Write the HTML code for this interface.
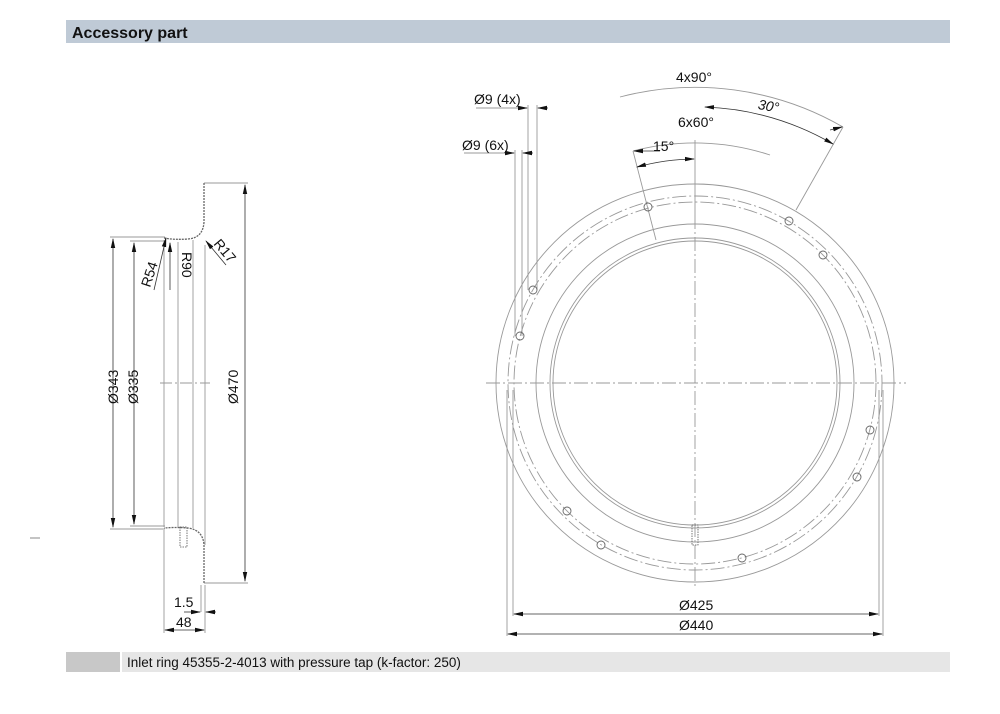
<!DOCTYPE html>
<html><head><meta charset="utf-8"><style>
body{margin:0;background:#fff;width:1000px;height:714px;overflow:hidden;font-family:"Liberation Sans",sans-serif}
svg{position:absolute;left:0;top:0}
</style></head><body>
<svg width="1000" height="714" viewBox="0 0 1000 714" font-family="Liberation Sans, sans-serif">
<defs>
<marker id="a" markerWidth="10" markerHeight="6" refX="9" refY="3" orient="auto-start-reverse" markerUnits="userSpaceOnUse"><path d="M0,0.8 L10,3 L0,5.2z" fill="#111"/></marker>
</defs>
<rect x="66" y="20" width="884" height="23" fill="#bfcad6"/>
<text x="72" y="38" font-size="16" font-weight="bold" fill="#111">Accessory part</text>
<rect x="66" y="652" width="54" height="20" fill="#c8c8c8"/>
<rect x="122" y="652" width="828" height="20" fill="#e6e6e6"/>
<text x="127" y="667" font-size="13.5" fill="#111">Inlet ring 45355-2-4013 with pressure tap (k-factor: 250)</text>
<line x1="30" y1="538" x2="40" y2="538" stroke="#888"/>

<g stroke="#999" stroke-width="0.9" fill="none">
<line x1="164" y1="240" x2="164" y2="527"/><line x1="178" y1="242" x2="178" y2="527"/>
<line x1="193" y1="240" x2="193" y2="528"/><line x1="205" y1="245" x2="205" y2="545"/>
<line x1="160" y1="383" x2="210" y2="383" stroke-dasharray="12,3,2,3"/>
<line x1="204" y1="183" x2="248" y2="183"/><line x1="204" y1="583" x2="248" y2="583"/>
<line x1="110" y1="237" x2="165" y2="237"/><line x1="130" y1="241" x2="165" y2="241"/>
<line x1="110" y1="529" x2="165" y2="529"/><line x1="130" y1="526" x2="165" y2="526"/>
<line x1="164" y1="530" x2="164" y2="633"/><line x1="205" y1="585" x2="205" y2="633"/>
<line x1="201" y1="585" x2="201" y2="612"/>
</g>
<path d="M204,183 L204,222 Q203,238 188,239 Q175,240 164,238" fill="none" stroke="#666" stroke-width="1.3" stroke-dasharray="2,1"/>
<path d="M204,583 L204,545 Q203,530 188,528 Q175,527 164,528" fill="none" stroke="#666" stroke-width="1.3" stroke-dasharray="2,1"/>
<rect x="180" y="527" width="7" height="20" fill="none" stroke="#555" stroke-width="0.8" stroke-dasharray="1.5,1"/>
<g stroke="#333" stroke-width="0.8" fill="none">
<line x1="245" y1="383" x2="245" y2="185" marker-end="url(#a)"/><line x1="245" y1="383" x2="245" y2="581" marker-end="url(#a)"/>
<line x1="113" y1="383" x2="113" y2="239" marker-end="url(#a)"/><line x1="113" y1="383" x2="113" y2="527" marker-end="url(#a)"/>
<line x1="134" y1="383" x2="134" y2="243" marker-end="url(#a)"/><line x1="134" y1="383" x2="134" y2="524" marker-end="url(#a)"/>
<line x1="184" y1="612" x2="200" y2="612" marker-end="url(#a)"/><line x1="216" y1="612" x2="206" y2="612" marker-end="url(#a)"/>
<line x1="184" y1="630" x2="165" y2="630" marker-end="url(#a)"/><line x1="184" y1="630" x2="204" y2="630" marker-end="url(#a)"/>
<line x1="154" y1="290" x2="166" y2="238" marker-end="url(#a)"/>
<line x1="170" y1="290" x2="170" y2="243" marker-end="url(#a)"/>
<line x1="226" y1="265" x2="206" y2="241" marker-end="url(#a)"/>
</g>
<g font-size="14" fill="#111">
<text transform="translate(118,404) rotate(-90)">Ø343</text>
<text transform="translate(138,404) rotate(-90)">Ø335</text>
<text transform="translate(238,404) rotate(-90)">Ø470</text>
<text transform="translate(150,288) rotate(-72)">R54</text>
<text transform="translate(182,252) rotate(90)">R90</text>
<text transform="translate(213,244) rotate(50)">R17</text>
<text x="174" y="607">1.5</text>
<text x="176" y="627">48</text>
</g>

<g stroke="#999" stroke-width="0.9" fill="none">
<circle cx="695" cy="383" r="199"/>
<circle cx="695" cy="383" r="159"/>
<circle cx="695" cy="383" r="145"/>
<circle cx="695" cy="383" r="142"/>
<circle cx="695" cy="383" r="187" stroke-dasharray="14,3,2,3"/>
<circle cx="695" cy="383" r="181" stroke-dasharray="14,3,2,3"/>
<line x1="486" y1="383" x2="906" y2="383" stroke-dasharray="14,3,2,3"/>
<line x1="695" y1="215" x2="695" y2="588" stroke-dasharray="14,3,2,3"/>
<line x1="507" y1="390" x2="507" y2="636"/><line x1="883" y1="390" x2="883" y2="636"/>
<line x1="513" y1="390" x2="513" y2="616"/><line x1="879" y1="390" x2="879" y2="616"/>
<line x1="528" y1="105" x2="528" y2="290"/><line x1="537" y1="105" x2="537" y2="290"/>
<line x1="515" y1="150" x2="515" y2="336"/><line x1="522" y1="150" x2="522" y2="336"/>
<line x1="695" y1="140" x2="695" y2="215"/>
<path d="M620,97 A296,296 0 0 1 843,127"/>
<path d="M633,151 A240,240 0 0 1 770,155"/>
<line x1="633" y1="151" x2="656" y2="240"/>
<line x1="843" y1="127" x2="796" y2="210"/>
<line x1="476" y1="108" x2="520" y2="108"/><line x1="464" y1="153" x2="508" y2="153"/>
</g>
<g fill="none" stroke="#666" stroke-width="0.9">
<circle cx="648" cy="207" r="4"/><circle cx="823" cy="255" r="4"/><circle cx="870" cy="430" r="4"/>
<circle cx="742" cy="558" r="4"/><circle cx="567" cy="511" r="4"/><circle cx="520" cy="336" r="4"/>
<circle cx="789" cy="221" r="4"/><circle cx="857" cy="477" r="4"/><circle cx="601" cy="545" r="4"/><circle cx="533" cy="290" r="4"/>
</g>
<rect x="692" y="525" width="6" height="20" fill="none" stroke="#555" stroke-width="0.8" stroke-dasharray="1.5,1"/>
<g stroke="#333" stroke-width="0.8" fill="none">
<path d="M705,107 A276,276 0 0 1 833,144" marker-start="url(#a)" marker-end="url(#a)"/>
<path d="M637,167 A224,224 0 0 1 694,159" marker-start="url(#a)" marker-end="url(#a)"/>
<line x1="830" y1="130" x2="842" y2="127" marker-end="url(#a)"/>
<line x1="660" y1="151" x2="634" y2="151" marker-end="url(#a)"/>
<line x1="695" y1="614" x2="514" y2="614" marker-end="url(#a)"/><line x1="695" y1="614" x2="878" y2="614" marker-end="url(#a)"/>
<line x1="695" y1="634" x2="508" y2="634" marker-end="url(#a)"/><line x1="695" y1="634" x2="882" y2="634" marker-end="url(#a)"/>
<line x1="518" y1="108" x2="527" y2="108" marker-end="url(#a)"/><line x1="548" y1="108" x2="538" y2="108" marker-end="url(#a)"/>
<line x1="506" y1="153" x2="514" y2="153" marker-end="url(#a)"/><line x1="533" y1="153" x2="523" y2="153" marker-end="url(#a)"/>
</g>
<g font-size="14" fill="#111">
<text x="676" y="82">4x90°</text>
<text x="758" y="111" font-style="italic" transform="rotate(10 770 106)">30°</text>
<text x="678" y="127">6x60°</text>
<text x="653" y="151">15°</text>
<text x="474" y="104">Ø9 (4x)</text>
<text x="462" y="150">Ø9 (6x)</text>
<text x="679" y="610">Ø425</text>
<text x="679" y="630">Ø440</text>
</g>
</svg>
</body></html>
